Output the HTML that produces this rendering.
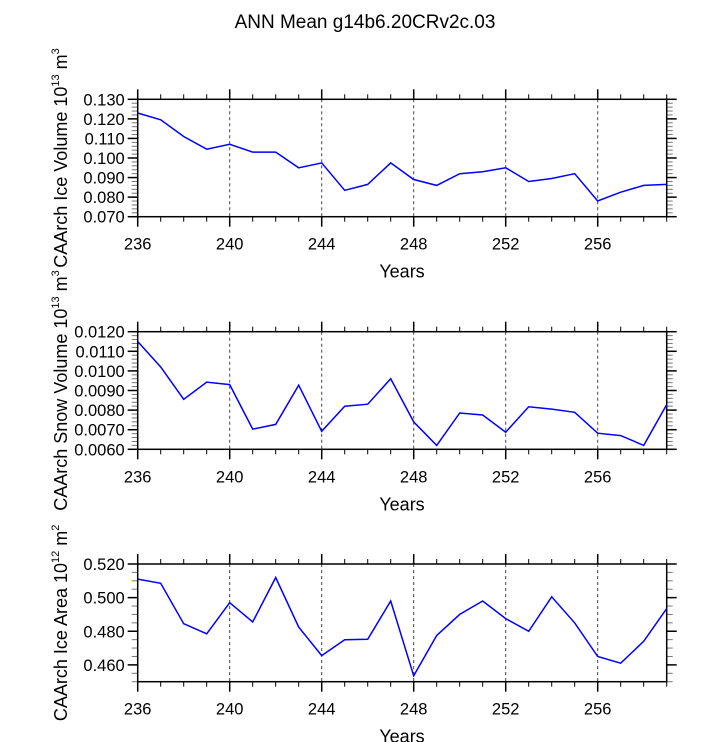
<!DOCTYPE html>
<html><head><meta charset="utf-8"><style>
body{margin:0;background:#fff;}
svg{display:block;font-family:"Liberation Sans",Arial,sans-serif;}
</style></head><body>
<svg id="chart" width="723" height="742" viewBox="0 0 723 742" xmlns="http://www.w3.org/2000/svg">
<text x="365" y="28" font-size="19" text-anchor="middle">ANN Mean g14b6.20CRv2c.03</text>
</svg>
<script>
const years = [236,237,238,239,240,241,242,243,244,245,246,247,248,249,250,251,252,253,254,255,256,257,258,259];
const iceVolume = [0.123,0.1195,0.111,0.1045,0.107,0.103,0.103,0.095,0.0975,0.0835,0.0865,0.0975,0.089,0.086,0.092,0.093,0.095,0.088,0.0895,0.092,0.078,0.0825,0.086,0.0865];
const snowVolume = [0.0115,0.0102,0.00855,0.00943,0.0093,0.00703,0.00727,0.00927,0.00692,0.0082,0.0083,0.0096,0.0074,0.0062,0.00785,0.00775,0.00687,0.00817,0.00805,0.00789,0.00682,0.0067,0.0062,0.00828];
const iceArea = [0.511,0.5085,0.4845,0.4785,0.497,0.4855,0.512,0.4825,0.4655,0.475,0.4752,0.498,0.4535,0.4775,0.490,0.498,0.4875,0.480,0.5005,0.485,0.465,0.461,0.474,0.4935];
const xTicks = [236,240,244,248,252,256];
const volTicks = ["0.070","0.080","0.090","0.100","0.110","0.120","0.130"];
const snowTicks = ["0.0060","0.0070","0.0080","0.0090","0.0100","0.0110","0.0120"];
const areaTicks = ["0.460","0.480","0.500","0.520"];

const svg = document.getElementById('chart');
const NS = 'http://www.w3.org/2000/svg';
function mk(tag, attrs, parent){const e=document.createElementNS(NS,tag);for(const k in attrs)e.setAttribute(k,attrs[k]);(parent||svg).appendChild(e);return e;}

const L=137.7, R=666.7, X0=236, X1=259;
const xs = v => L + (v-X0)/(X1-X0)*(R-L);

function panel(name, top, bot, ymin, ymax, minorStep, ticks, data, titleParts){
  const g = mk('g',{});
  
  
  const ys = v => bot - (v-ymin)/(ymax-ymin)*(bot-top);
  xTicks.forEach(t=>{ if(t===X0) return;
    const l=mk('line',{x1:xs(t),x2:xs(t),y1:top,y2:bot,stroke:'#444','stroke-width':1,'stroke-dasharray':'3,3'},g);
    
    
  });
  for(let yr=X0; yr<=X1; yr++){
    const major = xTicks.includes(yr);
    const len = major?10:5;
    mk('line',{x1:xs(yr),x2:xs(yr),y1:top,y2:top-len,stroke:'#000','stroke-width':major?1.5:1},g);
    mk('line',{x1:xs(yr),x2:xs(yr),y1:bot,y2:bot+len,stroke:'#000','stroke-width':major?1.5:1},g);
  }
  xTicks.forEach(t=>{
    const tx=mk('text',{x:xs(t),y:bot+33,'font-size':16.5,'text-anchor':'middle'},g);
    tx.textContent=t;
    
    
  });
  const n = Math.round((ymax-ymin)/minorStep);
  for(let i=0;i<=n;i++){
    const v=ymin+i*minorStep, y=ys(v);
    mk('line',{x1:L,x2:L-6,y1:y,y2:y,stroke:'#777','stroke-width':1},g);
    mk('line',{x1:R,x2:R+6,y1:y,y2:y,stroke:'#777','stroke-width':1},g);
  }
  ticks.forEach(t=>{
    const y=ys(parseFloat(t));
    mk('line',{x1:L,x2:L-10,y1:y,y2:y,stroke:'#000','stroke-width':1.5},g);
    mk('line',{x1:R,x2:R+10,y1:y,y2:y,stroke:'#000','stroke-width':1.5},g);
    const tx=mk('text',{x:L-13,y:y+6,'font-size':16.5,'text-anchor':'end'},g);
    tx.textContent=t;
    
    
  });
  const fr=mk('rect',{x:L,y:top,width:R-L,height:bot-top,fill:'none',stroke:'#000','stroke-width':1.5},g);
  
  
  const pts = data.map((v,i)=>xs(years[i]).toFixed(1)+','+ys(v).toFixed(1)).join(' ');
  const pl=mk('polyline',{points:pts,fill:'none',stroke:'#0000ff','stroke-width':1.5},g);
  
  
  const xt=mk('text',{x:402,y:bot+61,'font-size':18,'text-anchor':'middle'},g);
  xt.textContent='Years';
  
  
  const cy=(top+bot)/2;
  const yt=mk('text',{x:0,y:0,'font-size':18,'text-anchor':'middle',transform:`translate(67,${cy}) rotate(-90)`},g);
  
  
  const a=mk('tspan',{},yt); a.textContent=titleParts[0];
  const b=mk('tspan',{dy:-8,'font-size':11},yt); b.textContent=titleParts[1];
  const c=mk('tspan',{dy:8},yt); c.textContent=' m';
  const d=mk('tspan',{dy:-8,'font-size':11},yt); d.textContent=titleParts[2];
}
panel('ice-volume',99.3,216.7,0.07,0.13,0.002,volTicks,iceVolume,['CAArch Ice Volume 10','13','3']);
panel('snow-volume',331.7,449.3,0.006,0.012,0.0002,snowTicks,snowVolume,['CAArch Snow Volume 10','13','3']);
panel('ice-area',564,681.7,0.45,0.52,0.005,areaTicks,iceArea,['CAArch Ice Area 10','12','2']);
</script>
</body></html>
